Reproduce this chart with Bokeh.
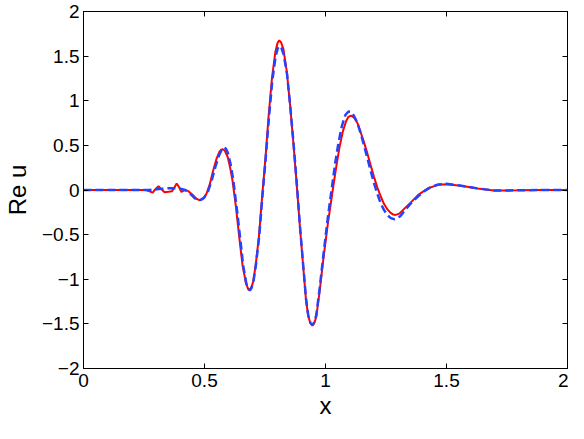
from bokeh.plotting import figure
from bokeh.models import LinearAxis, FixedTicker, Range1d
from bokeh.embed import file_html
from bokeh.resources import INLINE

# ---- data ----
x_red = [0.0, 0.24, 0.258, 0.273, 0.286, 0.297, 0.310, 0.321, 0.335, 0.351, 0.365,
         0.376, 0.385, 0.395, 0.405, 0.419, 0.432, 0.453, 0.467, 0.481, 0.494, 0.508,
         0.522, 0.535, 0.549, 0.562, 0.569, 0.576, 0.584, 0.596, 0.606, 0.616, 0.630,
         0.643, 0.657, 0.671, 0.679, 0.686, 0.693, 0.701, 0.711, 0.725, 0.738, 0.752,
         0.765, 0.779, 0.793, 0.802, 0.809, 0.817, 0.826, 0.840, 0.853, 0.867, 0.881,
         0.894, 0.908, 0.919, 0.928, 0.937, 0.946, 0.954, 0.962, 0.976, 0.990, 1.003,
         1.010, 1.030, 1.045, 1.058, 1.072, 1.085, 1.095, 1.105, 1.117, 1.132, 1.145,
         1.159, 1.173, 1.186, 1.200, 1.214, 1.228, 1.241, 1.255, 1.268, 1.280, 1.290,
         1.305, 1.329, 1.356, 1.383, 1.424, 1.465, 1.499, 1.560, 1.628, 1.696, 1.79,
         1.89, 2.0]
y_red = [0.0, 0.0, 0.0, -0.015, -0.03, 0.01, 0.043, 0.01, -0.025, -0.02, -0.015,
         0.03, 0.072, 0.03, -0.022, 0.0, -0.01, -0.06, -0.098, -0.116, -0.098, -0.043,
         0.065, 0.21, 0.345, 0.43, 0.452, 0.457, 0.44, 0.37, 0.25, 0.10, -0.19,
         -0.514, -0.84, -1.04, -1.10, -1.118, -1.095, -1.03, -0.85, -0.52, -0.08, 0.36,
         0.83, 1.26, 1.55, 1.65, 1.677, 1.65, 1.58, 1.33, 0.97, 0.536, 0.065,
         -0.405, -0.86, -1.22, -1.40, -1.49, -1.52, -1.49, -1.42, -1.13, -0.80, -0.52,
         -0.37, 0.0, 0.27, 0.48, 0.66, 0.77, 0.82, 0.833, 0.815, 0.75, 0.65,
         0.536, 0.41, 0.283, 0.15, 0.03, -0.07, -0.152, -0.215, -0.254, -0.275, -0.279,
         -0.265, -0.2, -0.13, -0.055, 0.02, 0.058, 0.065, 0.047, 0.018, -0.005, -0.004,
         0.0, 0.0]

x_blue = [0.0, 0.27, 0.31, 0.35, 0.39, 0.42, 0.444, 0.459, 0.474, 0.484, 0.499, 0.514,
          0.529, 0.544, 0.559, 0.572, 0.581, 0.588, 0.596, 0.607, 0.619, 0.634, 0.647,
          0.660, 0.673, 0.681, 0.687, 0.694, 0.702, 0.712, 0.726, 0.739, 0.753, 0.766,
          0.780, 0.794, 0.803, 0.810, 0.818, 0.827, 0.841, 0.854, 0.868, 0.882, 0.895,
          0.909, 0.920, 0.929, 0.938, 0.946, 0.954, 0.962, 0.976, 0.990, 1.010, 1.025,
          1.040, 1.053, 1.067, 1.082, 1.095, 1.105, 1.118, 1.132, 1.146, 1.159, 1.173,
          1.186, 1.200, 1.214, 1.228, 1.241, 1.255, 1.270, 1.283, 1.296, 1.310, 1.329,
          1.356, 1.383, 1.410, 1.437, 1.466, 1.499, 1.560, 1.628, 1.696, 1.79, 1.89, 2.0]
y_blue = [0.0, 0.0, 0.01, 0.02, 0.02, 0.0, -0.05, -0.09, -0.112, -0.11, -0.085, -0.02,
          0.10, 0.25, 0.38, 0.455, 0.475, 0.465, 0.42, 0.30, 0.11, -0.22, -0.53,
          -0.85, -1.05, -1.11, -1.125, -1.10, -1.03, -0.85, -0.52, -0.08, 0.36, 0.80,
          1.22, 1.50, 1.59, 1.615, 1.59, 1.52, 1.30, 0.95, 0.52, 0.05, -0.42,
          -0.88, -1.23, -1.41, -1.49, -1.515, -1.48, -1.40, -1.10, -0.76, -0.30, 0.0,
          0.30, 0.52, 0.71, 0.84, 0.88, 0.875, 0.83, 0.75, 0.63, 0.50, 0.36,
          0.22, 0.08, -0.04, -0.15, -0.22, -0.28, -0.315, -0.327, -0.318, -0.29, -0.225,
          -0.14, -0.07, -0.01, 0.036, 0.062, 0.070, 0.048, 0.018, -0.005, -0.004, 0.0, 0.0]

x_ticks = [0, 0.5, 1, 1.5, 2]
x_tick_labels = ["0", "0.5", "1", "1.5", "2"]
y_ticks = [-2, -1.5, -1, -0.5, 0, 0.5, 1, 1.5, 2]
y_tick_labels = ["\u22122", "\u22121.5", "\u22121", "\u22120.5", "0", "0.5", "1", "1.5", "2"]

FONT = "Liberation Sans"

p = figure(width=568, height=423, x_range=Range1d(0, 2), y_range=Range1d(-2, 2),
           output_backend="svg", toolbar_location=None,
           min_border_left=77, min_border_right=1, min_border_top=11, min_border_bottom=55,
           x_axis_label="x", y_axis_label="Re u")
p.grid.visible = False
p.outline_line_color = "black"
p.outline_line_width = 1
p.background_fill_color = "white"
p.border_fill_color = "white"

p.line(x_red, y_red, line_color="#ff0000", line_width=2)
p.line(x_blue, y_blue, line_color="#2343ff", line_width=2.5, line_dash="8 4")


def style(ax, ticks, labels, show=True):
    ax.ticker = FixedTicker(ticks=ticks)
    ax.major_label_overrides = {t: l for t, l in zip(ticks, labels)}
    ax.major_tick_in = 5
    ax.major_tick_out = 0
    ax.minor_tick_in = 0
    ax.minor_tick_out = 0
    ax.axis_line_color = "black"
    ax.major_tick_line_color = "black"
    ax.major_label_text_font = FONT
    ax.major_label_text_color = "black"
    ax.axis_label_text_font = FONT
    ax.axis_label_text_font_style = "normal"
    ax.axis_label_text_color = "black"
    ax.axis_label_text_font_size = "24px"
    if show:
        ax.major_label_text_font_size = "19px"
    else:
        ax.major_label_text_font_size = "0px"
        ax.major_label_standoff = 0


for ax in p.xaxis:
    style(ax, x_ticks, x_tick_labels)
    ax.major_label_standoff = 5
    ax.axis_label_standoff = 2
for ax in p.yaxis:
    style(ax, y_ticks, y_tick_labels)
    ax.major_label_standoff = 4
    ax.axis_label_standoff = 8

top = LinearAxis()
style(top, x_ticks, ["" for _ in x_ticks], show=False)
p.add_layout(top, "above")
right = LinearAxis()
style(right, y_ticks, ["" for _ in y_ticks], show=False)
p.add_layout(right, "right")

open("out.html", "w").write(file_html(p, INLINE))
